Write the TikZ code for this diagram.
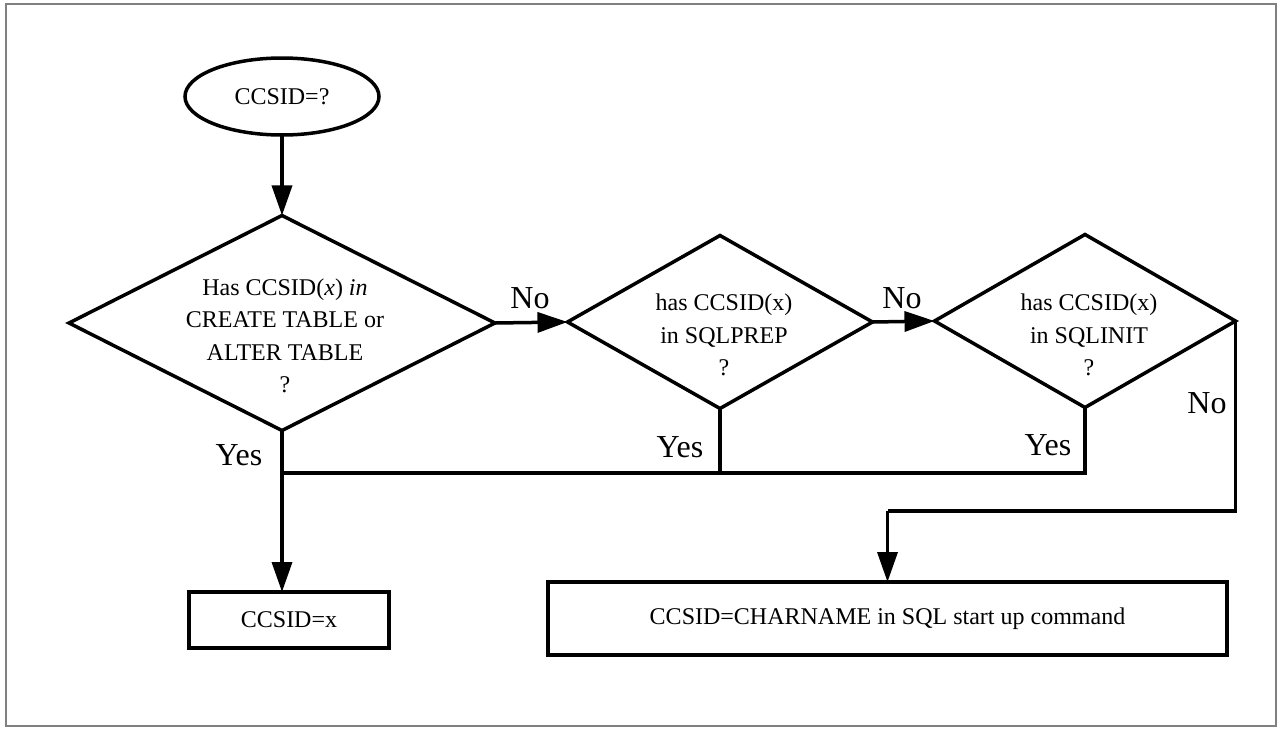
\documentclass[tikz,border=0pt]{standalone}
\usepackage{fontspec}
\setmainfont{Liberation Serif}
\usetikzlibrary{shapes.geometric,arrows.meta}

\tikzset{
  every node/.style={inner sep=0pt, outer sep=0pt},
  flow/.style={line width=3.5pt, line join=miter},
  arr/.style={flow, -{Triangle[length=30pt,width=20pt]}},
  decision/.style={diamond, draw, line width=3.5pt},
  startshape/.style={ellipse, draw, line width=3.5pt},
  stepbox/.style={rectangle, draw, line width=3.5pt},
  body/.style={font=\fontsize{24}{32.5}\selectfont, align=center},
  answer/.style={font=\fontsize{32}{36}\selectfont},
}

\begin{document}
\begin{tikzpicture}[x=1pt, y=-1pt]
  \useasboundingbox (0,0) rectangle (1282,728);
  \draw[gray, line width=1.5pt] (6,4) rectangle (1276,726);

  % start
  \node[startshape, minimum width=194pt, minimum height=77pt, body] (start) at (282,96.5) {CCSID=?};

  % decisions
  \node[decision, minimum width=426pt, minimum height=215pt] (d1) at (282,323) {};
  \node[body] (t1) at (285,336) {Has CCSID(\textit{x}) \textit{in}\\CREATE TABLE or\\ALTER TABLE\\?};

  \node[decision, minimum width=305pt, minimum height=173pt] (d2) at (720,322) {};
  \node[body] (t2) at (724,335) {has CCSID(x)\\in SQLPREP\\?};

  \node[decision, minimum width=301pt, minimum height=173pt] (d3) at (1085,321) {};
  \node[body] (t3) at (1089,335) {has CCSID(x)\\in SQLINIT\\?};

  % results
  \node[stepbox, minimum width=200pt, minimum height=56pt, body] (b1) at (289,620) {CCSID=x};
  \node[stepbox, minimum width=679pt, minimum height=73pt, body] (b2) at (887.5,618.5) {CCSID=CHARNAME in SQL start up command};

  % routing points
  \coordinate (bus) at (282,473);
  \coordinate (rt) at (1236,511);

  % connectors
  \draw[arr] (start) -- (d1);
  \draw[arr] (d1.east) -- (d2.west);
  \draw[arr] (d2.east) -- (d3.west);

  \draw[flow] (d1.south) -- (bus) -- (d3.south |- bus) -- (d3.south);
  \draw[flow] (d2.south) -- (d2.south |- bus);
  \draw[arr] (bus) -- (bus |- b1.north);

  \draw[flow] (d3.east) -- (d3.east |- rt) -- (b2.north |- rt);
  \draw[arr] (b2.north |- rt) -- (b2.north);

  % branch labels
  \node[answer] (n1) at (530,298) {No};
  \node[answer] (n2) at (902,298) {No};
  \node[answer] (n3) at (1207,403) {No};
  \node[answer] (y1) at (239,455) {Yes};
  \node[answer] (y2) at (680,447) {Yes};
  \node[answer] (y3) at (1048,445) {Yes};
\end{tikzpicture}
\end{document}
